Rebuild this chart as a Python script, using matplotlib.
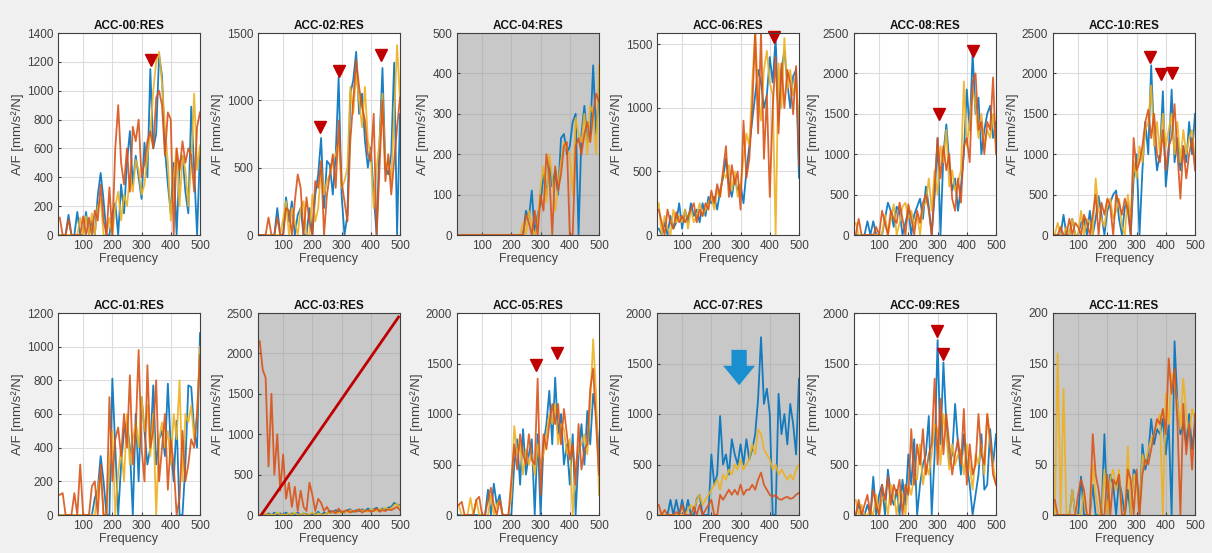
import matplotlib
matplotlib.use("Agg")
import matplotlib.pyplot as plt
import numpy as np

plt.rcParams['font.family'] = ['Liberation Sans', 'DejaVu Sans']

freq = list(range(20, 501, 10))  # 20..500 Hz grid

titles = ["ACC-00:RES", "ACC-02:RES", "ACC-04:RES", "ACC-06:RES", "ACC-08:RES", "ACC-10:RES",
          "ACC-01:RES", "ACC-03:RES", "ACC-05:RES", "ACC-07:RES", "ACC-09:RES", "ACC-11:RES"]
ymax = [1400, 1500, 500, 1590, 2500, 2500, 1200, 2500, 2000, 2000, 2000, 200]
yticks = [[0, 200, 400, 600, 800, 1000, 1200, 1400], [0, 500, 1000, 1500], [0, 100, 200, 300, 400, 500],
          [0, 500, 1000, 1500], [0, 500, 1000, 1500, 2000, 2500], [0, 500, 1000, 1500, 2000, 2500],
          [0, 200, 400, 600, 800, 1000, 1200], [0, 500, 1000, 1500, 2000, 2500], [0, 500, 1000, 1500, 2000],
          [0, 500, 1000, 1500, 2000], [0, 500, 1000, 1500, 2000], [0, 50, 100, 150, 200]]
gray_panels = ["ACC-04:RES", "ACC-03:RES", "ACC-07:RES", "ACC-11:RES"]

# ---- ACC-00 ----
acc00_blue = [0,0,0,140,0,0,160,0,0,160,0,100,0,270,430,240,0,0,150,220,0,350,150,500,720,350,550,400,250,640,400,1150,600,700,1250,1100,600,350,150,500,0,500,550,300,150,890,450,0,600]
acc00_yellow = [0,0,0,0,0,0,0,120,0,130,0,150,0,200,250,0,0,120,0,200,300,100,280,200,400,300,520,450,280,350,550,700,1000,1200,1270,1050,750,500,100,400,600,200,550,450,200,500,980,450,620]
acc00_orange = [120,0,0,110,0,0,0,0,130,0,120,0,170,100,350,100,0,330,0,600,900,500,350,600,300,750,650,800,400,500,650,720,600,950,1000,900,550,850,800,0,600,450,650,500,600,550,300,750,850]
# ---- ACC-02 ----
acc02_blue = [0,0,0,0,0,0,200,0,0,280,100,250,0,150,200,0,0,200,0,300,450,720,200,550,520,300,600,1170,300,0,150,1050,1150,1360,900,1050,700,500,650,300,0,700,1240,500,450,600,1280,0,900]
acc02_yellow = [0,0,0,0,0,0,0,0,120,250,0,200,100,0,200,250,0,0,300,100,200,500,300,400,450,550,600,700,350,400,500,1100,900,1200,1000,800,1100,700,600,200,500,700,1050,500,550,400,900,1410,1000]
acc02_orange = [0,0,0,130,0,0,130,0,0,200,180,0,250,450,350,0,280,100,0,400,350,550,0,300,450,600,350,850,400,250,100,700,1000,1300,1100,950,850,600,550,900,0,500,1000,400,600,300,550,800,1020]
# ---- ACC-04 ----
acc04_blue = [0]*22 + [0,60,40,110,0,50,80,150,100,180,120,160,100,240,250,200,220,280,300,0,250,320,230,250,420,250,360]
acc04_yellow = [0]*22 + [30,0,60,20,0,30,120,170,80,200,140,60,120,180,230,210,200,100,290,250,230,300,200,320,300,200,420]
acc04_orange = [0]*22 + [0,50,30,0,60,0,100,60,200,150,0,170,110,150,220,230,0,0,220,240,200,250,280,230,300,350,330]
# ---- ACC-06 ----
acc06_blue = [50,0,100,0,150,50,100,250,50,200,100,250,150,200,100,250,150,300,250,300,200,350,450,600,400,300,450,350,400,250,500,700,900,1100,1300,1200,1000,1100,1400,1200,1550,900,1300,1450,1200,1000,1250,1300,450]
acc06_yellow = [250,0,150,50,0,200,100,150,100,200,50,200,100,150,250,150,200,250,300,200,350,300,500,450,550,350,500,300,400,600,800,700,1200,1600,1100,900,1300,1450,1200,1100,0,1350,1000,1550,1150,1300,1100,1200,900]
acc06_orange = [200,100,0,200,100,50,180,100,150,100,150,200,250,100,200,150,250,200,350,250,400,300,500,700,300,550,400,500,200,900,450,600,1000,1600,800,1600,600,1100,300,1000,1400,800,1350,1000,1300,1200,950,1330,550]
# ---- ACC-08 ----
acc08_blue = [0,0,0,0,170,0,170,0,0,0,200,400,300,100,350,300,0,150,300,0,250,350,450,200,600,350,0,500,1200,0,1000,1370,900,550,700,300,600,1000,1800,1300,2250,1500,1700,1000,1300,1500,1600,1200,1400]
acc08_yellow = [150,0,0,0,0,0,0,0,0,0,250,0,200,380,0,150,350,400,200,300,100,250,0,350,400,700,300,800,500,1100,900,1300,600,800,550,650,800,1900,1100,1400,1800,1600,1200,1500,1100,1300,1200,1500,1100]
acc08_orange = [0,200,0,0,0,0,0,100,0,300,150,0,300,200,150,400,200,0,380,200,0,300,150,400,500,300,0,600,1200,700,1100,800,1000,450,300,700,400,1100,1200,900,1900,2000,1300,1400,1000,1400,1300,1950,1000]
# ---- ACC-10 ----
acc10_blue = [0,0,0,250,0,0,200,0,0,150,200,0,300,0,200,480,250,0,300,400,500,550,200,0,350,400,0,700,1000,0,800,1400,1000,2100,1200,800,1000,1780,600,1000,1800,900,1200,800,1100,900,1400,1000,1500]
acc10_yellow = [0,150,0,0,100,0,200,0,0,300,0,200,150,0,700,300,200,100,400,450,200,300,450,100,0,500,200,900,700,1100,900,1300,1400,1850,1100,1400,1000,1500,1100,1300,1500,1000,1400,900,1300,1000,1200,1300,900]
acc10_orange = [0,0,100,0,0,200,0,150,100,0,250,150,0,250,500,0,400,250,450,350,0,500,400,250,450,300,0,1200,800,900,1100,1400,1550,1200,1500,1000,900,1300,800,1100,1200,1620,1000,450,1100,700,1000,1200,800]
# ---- ACC-01 ----
acc01_blue = [0,0,0,0,0,0,0,0,0,0,0,0,100,150,350,200,0,0,810,400,0,300,500,550,400,0,600,200,700,500,300,400,770,300,450,500,350,780,400,200,560,0,0,300,770,760,500,400,1080]
acc01_yellow = [0,0,0,0,0,0,0,0,0,0,0,0,0,150,250,0,0,300,500,0,250,400,200,600,300,450,550,400,700,500,650,350,600,0,450,550,400,500,300,600,450,800,200,600,550,650,450,600,1000]
acc01_orange = [120,130,0,0,0,130,0,300,0,0,0,170,200,0,300,0,0,700,200,450,520,350,600,400,830,300,500,980,400,200,890,400,500,800,200,400,600,150,450,300,0,100,500,200,300,450,400,600,950]
# ---- ACC-03 ----
acc03_blue = [0,10,0,20,0,30,0,20,0,30,0,20,10,30,0,20,10,0,20,10,40,0,30,20,50,30,60,40,50,30,60,70,40,60,50,70,50,80,60,70,90,60,80,70,90,100,150,130,120]
acc03_yellow = [0,0,20,0,10,0,30,0,10,0,20,0,30,0,10,20,0,10,30,0,20,10,0,30,20,40,30,20,50,40,30,60,50,40,70,50,60,40,70,60,50,80,60,90,70,80,120,140,100]
acc03_orange = [2150,1800,1700,600,1500,500,1000,300,750,200,400,100,350,50,300,100,50,400,250,50,200,150,50,100,30,50,20,80,30,50,60,30,50,40,70,30,50,60,40,50,80,40,60,50,70,60,80,100,60]
acc03_line_x = [25, 495]
acc03_line_y = [0, 2450]
# ---- ACC-05 ----
acc05_blue = [0,0,0,0,0,0,0,0,0,0,250,0,310,100,200,0,0,0,0,500,750,300,850,400,600,750,0,800,0,700,900,1230,700,1360,800,1000,500,700,300,800,0,600,900,500,1030,700,1200,1000,600]
acc05_yellow = [100,0,0,0,170,0,150,0,0,0,0,200,0,100,150,0,0,0,200,880,600,700,400,650,500,600,400,700,500,600,800,1000,900,1100,700,900,850,600,750,0,500,650,700,800,600,1100,1740,1200,200]
acc05_orange = [100,130,0,0,0,0,150,180,0,0,150,270,100,0,150,0,0,0,350,700,450,800,600,500,800,550,500,1350,200,800,650,900,1100,900,1100,700,1050,800,550,700,300,900,450,650,700,1250,1450,900,400]
# ---- ACC-07 ----
acc07_blue = [0,0,0,0,150,0,150,0,150,0,150,0,0,160,200,0,0,0,600,300,400,980,500,600,400,750,600,500,700,500,750,550,650,800,1150,1760,1100,1250,1000,0,0,1200,800,1000,700,1100,900,600,1350]
acc07_yellow = [0,0,0,0,0,0,0,0,0,0,50,100,50,150,200,100,150,200,250,300,350,250,400,350,450,400,500,450,550,450,500,550,700,600,850,800,650,600,550,450,500,400,450,400,350,400,350,450,500]
acc07_orange = [100,0,50,0,0,0,30,0,100,0,0,0,80,0,100,0,50,100,150,0,0,200,150,200,250,200,250,200,300,200,250,250,300,250,350,420,300,250,200,180,200,160,150,170,180,160,170,200,220]
# ---- ACC-09 ----
acc09_blue = [0,100,0,0,100,0,380,0,200,300,0,450,200,100,250,0,350,100,600,300,750,0,300,500,600,980,0,600,1730,700,1510,900,500,600,1100,700,400,800,500,300,0,200,400,800,250,300,850,500,800]
acc09_yellow = [150,0,100,0,0,50,0,200,0,150,200,0,300,200,0,250,200,0,300,200,400,350,700,300,500,400,600,900,850,500,1000,800,450,700,500,600,650,400,700,500,250,600,500,700,400,1000,700,500,300]
acc09_orange = [0,150,0,100,200,0,250,100,0,300,150,380,100,300,200,350,0,300,200,850,300,700,500,850,400,600,700,1350,500,1150,600,1000,700,400,600,750,500,1050,300,700,400,500,1000,600,500,1000,750,400,300]
# ---- ACC-11 ----
acc11_blue = [0,0,0,0,0,0,25,0,0,38,0,0,0,30,0,0,0,80,0,40,30,0,35,20,0,25,0,45,40,0,70,45,60,95,70,85,80,95,60,90,0,172,110,80,90,70,100,65,90]
acc11_yellow = [0,160,0,125,0,0,25,0,0,0,25,0,0,50,20,0,0,45,0,35,45,25,45,0,0,68,0,40,30,0,60,50,65,75,80,90,100,0,120,90,140,130,110,85,135,100,80,105,95]
acc11_orange = [15,0,0,0,0,0,0,0,20,35,25,0,0,80,40,25,0,0,40,0,35,30,40,0,0,45,35,0,45,0,40,55,50,65,80,95,90,105,80,155,120,145,90,0,110,60,90,45,100]

series = {
    "ACC-00:RES": (acc00_blue, acc00_yellow, acc00_orange),
    "ACC-02:RES": (acc02_blue, acc02_yellow, acc02_orange),
    "ACC-04:RES": (acc04_blue, acc04_yellow, acc04_orange),
    "ACC-06:RES": (acc06_blue, acc06_yellow, acc06_orange),
    "ACC-08:RES": (acc08_blue, acc08_yellow, acc08_orange),
    "ACC-10:RES": (acc10_blue, acc10_yellow, acc10_orange),
    "ACC-01:RES": (acc01_blue, acc01_yellow, acc01_orange),
    "ACC-03:RES": (acc03_blue, acc03_yellow, acc03_orange),
    "ACC-05:RES": (acc05_blue, acc05_yellow, acc05_orange),
    "ACC-07:RES": (acc07_blue, acc07_yellow, acc07_orange),
    "ACC-09:RES": (acc09_blue, acc09_yellow, acc09_orange),
    "ACC-11:RES": (acc11_blue, acc11_yellow, acc11_orange),
}

# peak markers (frequency, level)
peaks = {
    "ACC-00:RES": ([333], [1210]),
    "ACC-02:RES": ([225, 290, 435], [800, 1220, 1340]),
    "ACC-06:RES": ([415], [1560]),
    "ACC-08:RES": ([305, 420], [1500, 2280]),
    "ACC-10:RES": ([345, 385, 420], [2200, 1990, 2000]),
    "ACC-05:RES": ([285, 355], [1490, 1600]),
    "ACC-09:RES": ([298, 320], [1820, 1590]),
}

colors = ["#0072BD", "#EDB120", "#D95319"]

fig = plt.figure(figsize=(12.12, 5.53), dpi=100)
fig.patch.set_facecolor("#f0f0f0")
W, H = 1212.0, 553.0
lefts = [58, 258, 457, 657, 854, 1053]
row_tb = [(33, 235), (313, 515)]
aw = 142

for k, t in enumerate(titles):
    r, c = divmod(k, 6)
    top, bot = row_tb[r]
    ax = fig.add_axes([lefts[c] / W, 1 - bot / H, aw / W, (bot - top) / H])
    ax.set_facecolor("#c8c8c8" if t in gray_panels else "white")
    b, y, o = series[t]
    ax.plot(freq, b, color=colors[0], lw=1.3, alpha=0.9)
    ax.plot(freq, y, color=colors[1], lw=1.3, alpha=0.9)
    ax.plot(freq, o, color=colors[2], lw=1.3, alpha=0.9)
    if t == "ACC-03:RES":
        ax.plot(acc03_line_x, acc03_line_y, color="#c00000", lw=2)
    if t in peaks:
        px, py = peaks[t]
        ax.plot(px, py, marker="v", color="#c00000", ls="none", ms=8, clip_on=False)
    if t == "ACC-07:RES":
        ax.annotate("", xy=(295, 1285), xytext=(295, 1635),
                    arrowprops=dict(facecolor="#1a8fd0", edgecolor="none",
                                    width=11, headwidth=23, headlength=14))
    ax.set_xlim(14, 500)
    ax.set_ylim(0, ymax[k])
    ax.set_xticks([100, 200, 300, 400, 500])
    ax.set_yticks(yticks[k])
    ax.grid(True, color="#dcdcdc" if t not in gray_panels else "#b8b8b8", lw=0.8)
    ax.set_axisbelow(True)
    ax.tick_params(labelsize=8.5, colors="#404040", direction="in", length=2)
    for s in ax.spines.values():
        s.set_color("#404040")
        s.set_linewidth(0.8)
    ax.set_title(t, fontsize=8.5, fontweight="bold", pad=3, color="#111111")
    ax.set_xlabel("Frequency", fontsize=9, color="#404040", labelpad=1)
    ax.set_ylabel("A/F [mm/s²/N]", fontsize=9.5, color="#404040", labelpad=2)

fig.savefig("out.png", dpi=100, facecolor=fig.get_facecolor())
